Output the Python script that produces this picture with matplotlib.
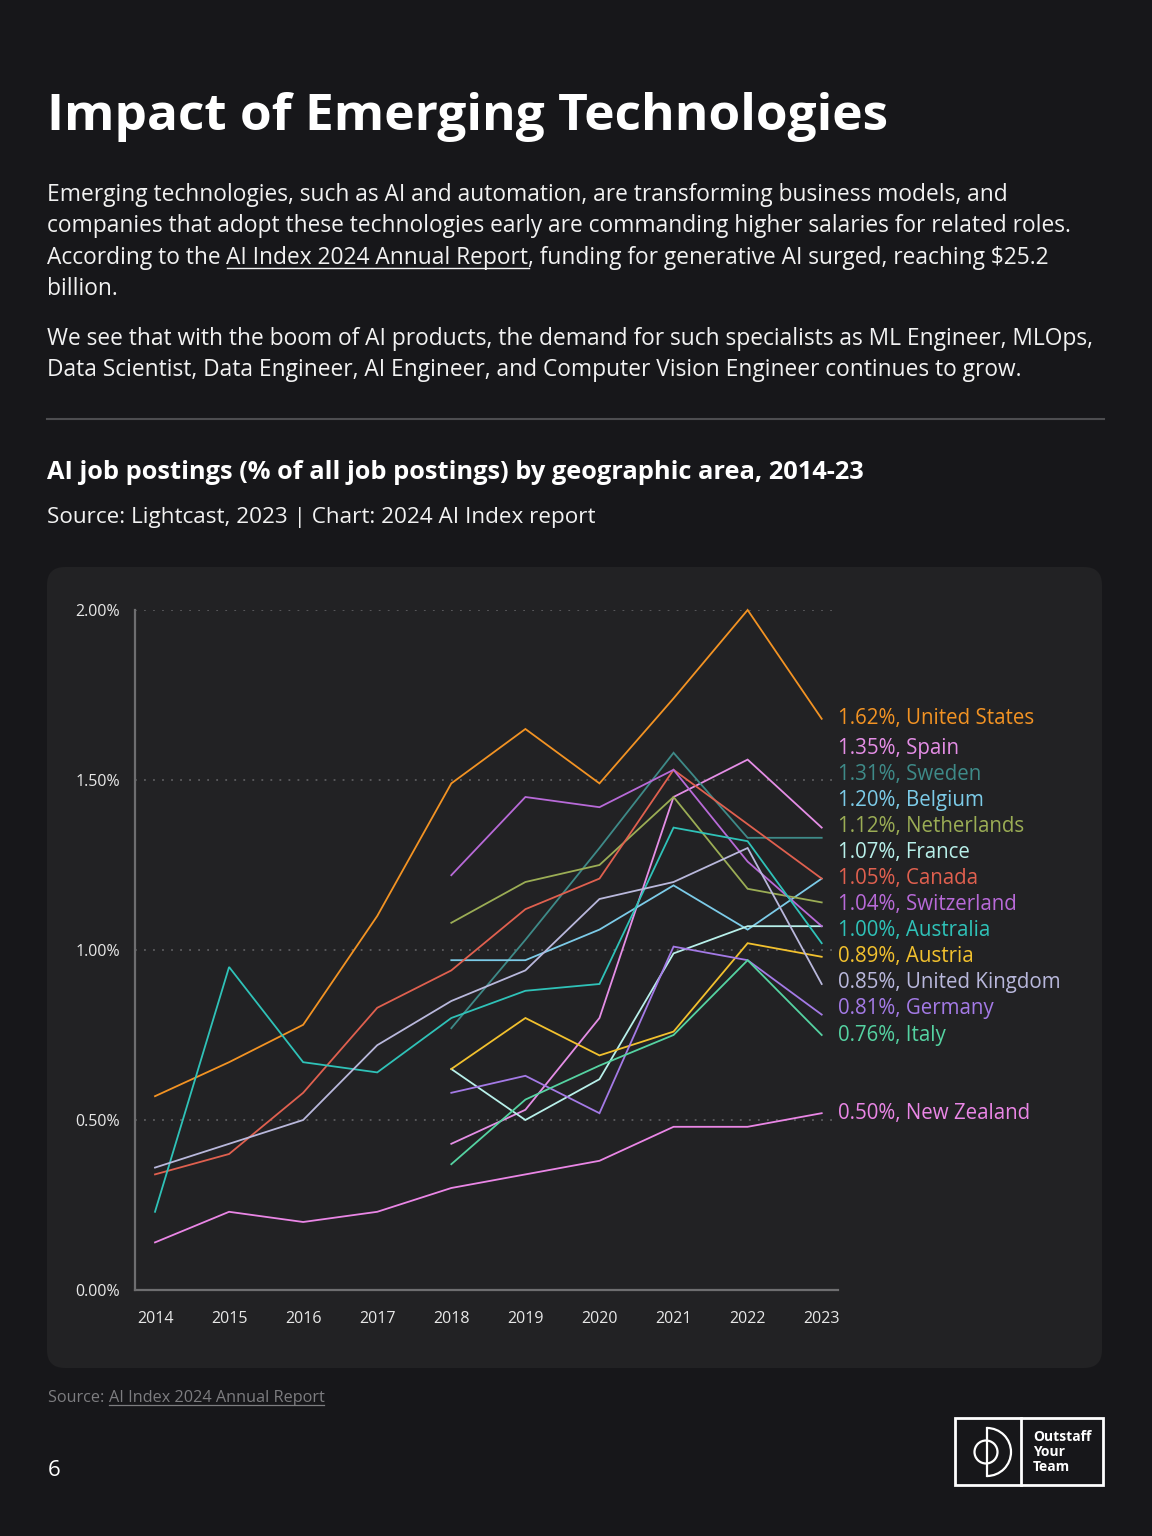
import numpy as np
import matplotlib.pyplot as plt
from matplotlib.patches import FancyBboxPatch, Rectangle, Circle, Arc

# ---- data (AI job postings, % of all job postings) ----
years = np.arange(2014, 2024)
years_late = np.arange(2018, 2024)

us = [0.57, 0.67, 0.78, 1.10, 1.49, 1.65, 1.49, 1.74, 2.00, 1.68]
canada = [0.34, 0.40, 0.58, 0.83, 0.94, 1.12, 1.21, 1.53, 1.37, 1.21]
australia = [0.23, 0.95, 0.67, 0.64, 0.80, 0.88, 0.90, 1.36, 1.32, 1.02]
uk = [0.36, 0.43, 0.50, 0.72, 0.85, 0.94, 1.15, 1.20, 1.30, 0.90]
new_zealand = [0.14, 0.23, 0.20, 0.23, 0.30, 0.34, 0.38, 0.48, 0.48, 0.52]

spain = [0.43, 0.53, 0.80, 1.45, 1.56, 1.36]
sweden = [0.77, 1.03, 1.30, 1.58, 1.33, 1.33]
belgium = [0.97, 0.97, 1.06, 1.19, 1.06, 1.21]
netherlands = [1.08, 1.20, 1.25, 1.45, 1.18, 1.14]
france = [0.65, 0.50, 0.62, 0.99, 1.07, 1.07]
switzerland = [1.22, 1.45, 1.42, 1.53, 1.26, 1.07]
austria = [0.65, 0.80, 0.69, 0.76, 1.02, 0.98]
germany = [0.58, 0.63, 0.52, 1.01, 0.97, 0.81]
italy = [0.37, 0.56, 0.66, 0.75, 0.97, 0.75]

countries = ["United States", "Spain", "Sweden", "Belgium", "Netherlands", "France",
             "Canada", "Switzerland", "Australia", "Austria", "United Kingdom",
             "Germany", "Italy", "New Zealand"]
label_values = [1.62, 1.35, 1.31, 1.20, 1.12, 1.07, 1.05, 1.04, 1.00, 0.89, 0.85,
                0.81, 0.76, 0.50]
series = [us, spain, sweden, belgium, netherlands, france, canada, switzerland,
          australia, austria, uk, germany, italy, new_zealand]
colors = ['#f39323', '#e58ee6', '#3e8a88', '#7ccbe8', '#9bad55', '#b8f0ea',
          '#e0604f', '#b86ad8', '#2fc2b8', '#f2c12e', '#b9b8dc', '#a47ae6',
          '#55d3a2', '#ea86e6']

W, H = 1152, 1536
FONT = ['Open Sans', 'DejaVu Sans']
plt.rcParams['font.family'] = FONT

fig = plt.figure(figsize=(W / 100, H / 100), dpi=100, facecolor='#17171a')

# background layer in pixel coordinates
bg = fig.add_axes([0, 0, 1, 1])
bg.set_xlim(0, W)
bg.set_ylim(H, 0)
bg.axis('off')

bg.text(47, 130, "Impact of Emerging Technologies", fontsize=37, fontweight='bold',
        color='white', va='baseline')

para = dict(fontsize=16.4, color='#f2f2f2', va='baseline')
bg.text(47, 201, "Emerging technologies, such as AI and automation, are transforming business models, and", **para)
bg.text(47, 232, "companies that adopt these technologies early are commanding higher salaries for related roles.", **para)
renderer = fig.canvas.get_renderer()
t1 = bg.text(47, 264, "According to the ", **para)
x1 = t1.get_window_extent(renderer).x1
t2 = bg.text(x1, 264, "AI Index 2024 Annual Report", **para)
bb2 = t2.get_window_extent(renderer)
bg.plot([bb2.x0, bb2.x1], [268, 268], color='#f2f2f2', lw=1)
bg.text(bb2.x1, 264, ", funding for generative AI surged, reaching $25.2", **para)
bg.text(47, 295, "billion.", **para)
bg.text(47, 345, "We see that with the boom of AI products, the demand for such specialists as ML Engineer, MLOps,", **para)
bg.text(47, 376, "Data Scientist, Data Engineer, AI Engineer, and Computer Vision Engineer continues to grow.", **para)

bg.plot([47, 1104], [419, 419], color='#4d4d50', lw=1.5)

bg.text(47, 479, "AI job postings (% of all job postings) by geographic area, 2014-23",
        fontsize=18.3, fontweight='bold', color='white', va='baseline')
bg.text(47, 523, "Source: Lightcast, 2023 | Chart: 2024 AI Index report",
        fontsize=16.2, color='#f2f2f2', va='baseline')

bg.add_patch(FancyBboxPatch((47, 567), 1055, 801,
                            boxstyle='round,pad=0,rounding_size=18',
                            fc='#222224', ec='none'))

# footer
t = bg.text(48, 1402, "Source: ", fontsize=11.7, color='#7d7d80', va='baseline')
xs = t.get_window_extent(renderer).x1
t = bg.text(xs, 1402, "AI Index 2024 Annual Report", fontsize=11.7, color='#7d7d80',
            va='baseline')
bb = t.get_window_extent(renderer)
bg.plot([bb.x0, bb.x1], [1405, 1405], color='#7d7d80', lw=0.9)
bg.text(48, 1476, "6", fontsize=16, color='white', va='baseline')

# logo
bg.add_patch(Rectangle((955, 1418), 148, 67, fill=False, ec='white', lw=2))
bg.plot([1021, 1021], [1418, 1485], color='white', lw=2)
bg.plot([987, 987], [1428, 1476], color='white', lw=1.6)
bg.add_patch(Arc((987, 1452), 48, 48, theta1=270, theta2=90, ec='white', lw=1.6))
bg.add_patch(Circle((986, 1452), 11.5, fill=False, ec='white', lw=1.6))
for i, word in enumerate(["Outstaff", "Your", "Team"]):
    bg.text(1033, 1437 + i * 15, word, fontsize=10, fontweight='bold', color='white',
            va='center')

# ---- chart ----
ax = fig.add_axes([135 / W, 1 - 1290 / H, (838 - 135) / W, (1290 - 610) / H])
ax.set_facecolor('none')
ax.set_xlim(2013.73, 2023.22)
ax.set_ylim(0, 2.0)

for v in [0.5, 1.0, 1.5, 2.0]:
    ax.axhline(v, color='#5c5c5f', lw=1.3, ls=(0, (1, 4)), zorder=1)

for vals, c in zip(series, colors):
    xs_ = years if len(vals) == len(years) else years_late
    ax.plot(xs_, vals, color=c, lw=1.3, zorder=3, clip_on=False,
            solid_joinstyle='miter')

# end labels stacked upward from the lowest so they don't overlap
gap = 0.0765
ends = [s[-1] for s in series]
order = np.argsort(label_values)
pos = {}
prev = -1
for i in order:
    p = max(ends[i], prev + gap)
    pos[i] = p
    prev = p
for i, name in enumerate(countries):
    ax.text(1.0, pos[i], f"{label_values[i]:.2f}%, {name}", color=colors[i],
            fontsize=14.8, va='center', ha='left',
            transform=ax.get_yaxis_transform())

ax.spines['top'].set_visible(False)
ax.spines['right'].set_visible(False)
for s in ['left', 'bottom']:
    ax.spines[s].set_color('#6e6e70')
    ax.spines[s].set_linewidth(1.6)

ax.set_yticks([0, 0.5, 1.0, 1.5, 2.0])
ax.set_yticklabels(["0.00%", "0.50%", "1.00%", "1.50%", "2.00%"])
ax.set_xticks(years)
ax.set_xticklabels([str(y) for y in years])
ax.tick_params(axis='y', length=0, pad=11, labelsize=11.5, labelcolor='#e8e8e8')
ax.tick_params(axis='x', length=0, pad=15, labelsize=11.5, labelcolor='#e8e8e8')

fig.savefig("out.png", dpi=100, facecolor=fig.get_facecolor())
